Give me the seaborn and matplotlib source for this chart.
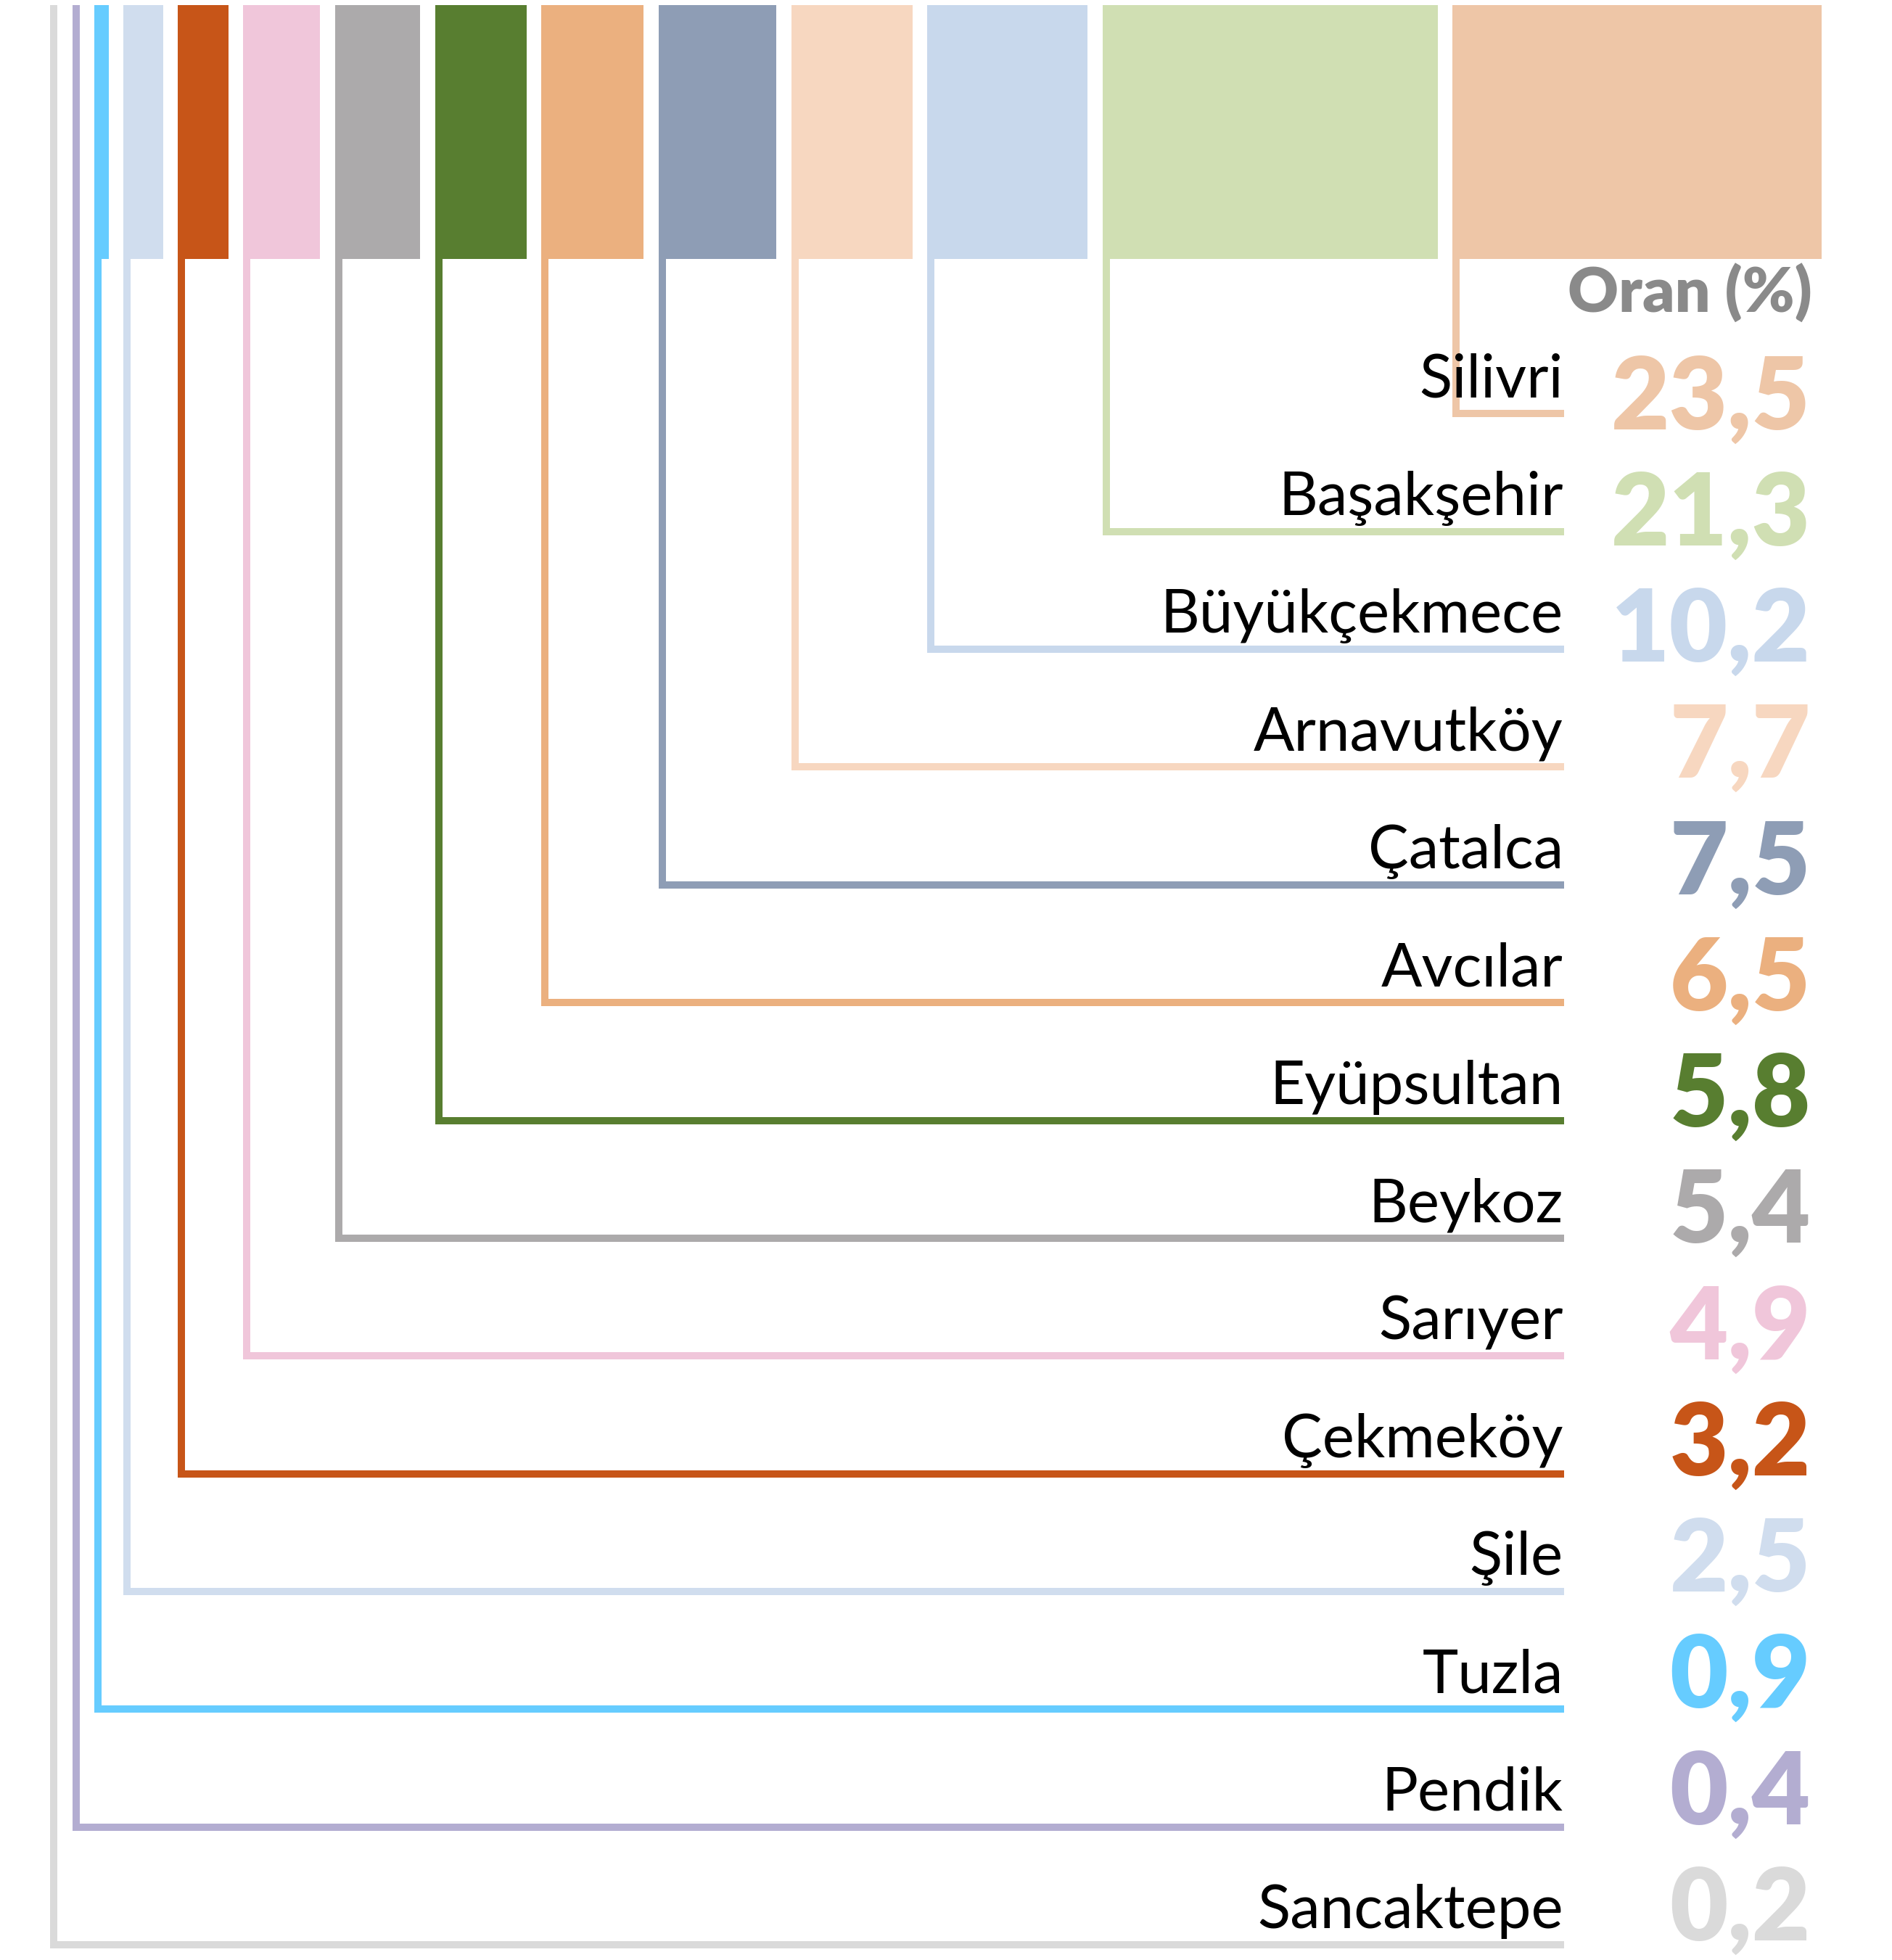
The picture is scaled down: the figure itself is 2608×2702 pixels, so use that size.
import numpy as np
import matplotlib.pyplot as plt
import seaborn as sns

# -----------------------------
# Data
# -----------------------------
districts = ["Silivri", "Başakşehir", "Büyükçekmece", "Arnavutköy", "Çatalca",
             "Avcılar", "Eyüpsultan", "Beykoz", "Sarıyer", "Çekmeköy",
             "Şile", "Tuzla", "Pendik", "Sancaktepe"]
values = [23.5, 21.3, 10.2, 7.7, 7.5, 6.5, 5.8, 5.4, 4.9, 3.2, 2.5, 0.9, 0.4, 0.2]
colors = ["#EEC6A7", "#D0DFB3", "#C8D8EC", "#F7D7C0", "#8E9DB5",
          "#EBB07F", "#587E30", "#ACAAAB", "#F0C6DA", "#C75518",
          "#D0DDEE", "#66CCFF", "#B3ADD1", "#DADADA"]
header = "Oran (%)"

sns.set_style("white")
plt.rcParams['font.family'] = ['Lato', 'DejaVu Sans']

# -----------------------------
# Layout (x in percentage points, y in rows)
# -----------------------------
x_start = 3.18      # left edge of the first (smallest) strip
gap = 0.955         # gap between strips
lw_u = 0.46         # connector width in x units
lw_pt = 7.2         # connector width in points
bar_top, bar_bottom = -3.471, -1.316
x_line_end = 99.5
x_label = 99.45
x_value = 115.2
value_step = 0.987  # value column sits on a slightly tighter grid

fig = plt.figure(figsize=(26.08, 27.02), dpi=100)
ax = fig.add_axes([0, 0, 1, 1])
ax.set_xlim(0, 120.37)
ax.set_ylim(13.13, -3.514)
ax.axis('off')

# strips are laid out from smallest (left) to largest (right)
n = len(values)
lefts = {}
x = x_start
for i in range(n - 1, -1, -1):
    w = max(values[i], lw_u)
    lefts[i] = (x, w)
    x += w + gap

for i in range(n):
    left, w = lefts[i]
    c = colors[i]
    ax.bar(left, bar_bottom - bar_top, width=w, bottom=bar_top,
           align='edge', color=c, linewidth=0)
    xc = left + lw_u / 2
    ax.plot([xc, xc, x_line_end], [bar_bottom - 0.02, i, i], color=c,
            lw=lw_pt, solid_joinstyle='miter', solid_capstyle='butt')
    ax.text(x_label, i - 0.14, districts[i], ha='right', va='baseline',
            fontsize=60, color='black')
    ax.text(x_value, 0.13 + i * value_step, f"{values[i]:.1f}".replace('.', ','),
            ha='right', va='baseline', fontsize=100, fontweight='heavy', color=c)

ax.text(x_value + 0.1, -0.86, header, ha='right', va='baseline',
        fontsize=62, fontweight='heavy', color='#8A8A8A')

fig.savefig('out.png', dpi=100)
